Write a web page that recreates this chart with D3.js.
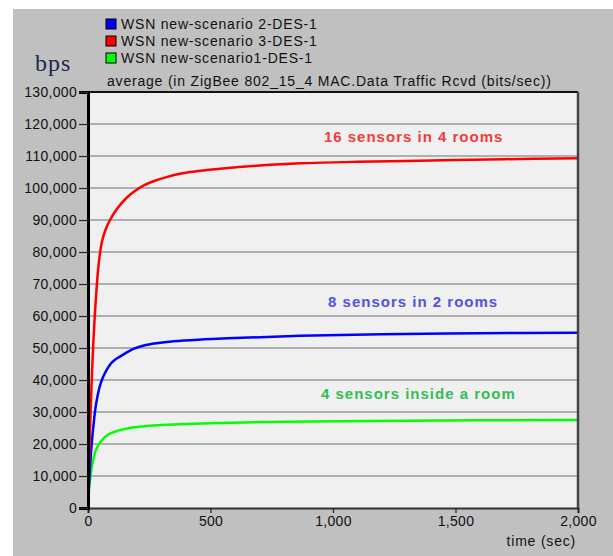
<!DOCTYPE html>
<html>
<head>
<meta charset="utf-8">
<script src="https://cdn.jsdelivr.net/npm/d3@7"></script>
<style>
  body { margin: 0; background: #fff; }
</style>
</head>
<body>
<div id="chart"></div>
<script>
// values: [time (sec), bits/sec]
var greenSeries = [[0,0],[3,4500],[7,8000],[11,10500],[16,13000],[22,15300],[30,17600],[38,19000],[47,20200],[58,21300],[72,22300],[92,23300],[115,24000],[140,24500],[188,25200],[240,25600],[300,25900],[400,26250],[539,26600],[700,26850],[900,27050],[1300,27300],[2000,27500]];
var blueSeries = [[0,0],[3,5500],[7,11000],[12,17000],[18,22500],[24,27000],[30,31000],[36,33800],[44,36800],[52,39000],[62,41000],[75,43000],[92,45000],[110,46300],[130,47300],[160,48700],[188,49800],[228,50800],[280,51500],[350,52100],[450,52600],[600,53100],[865,53800],[1200,54300],[1600,54600],[2000,54800]];
var redSeries = [[0,0],[2,7000],[4,13000],[7,21000],[11,31000],[15,39500],[19,47000],[23,53500],[28,60500],[34,67500],[40,73500],[47,78500],[55,82500],[65,85500],[77,88000],[90,90000],[110,92600],[133,94900],[160,97100],[190,99000],[230,100900],[270,102200],[320,103400],[380,104500],[450,105300],[550,106100],[700,107000],[865,107700],[1100,108200],[1400,108600],[1700,109000],[2000,109300]];

var legendNames = ["WSN new-scenario 2-DES-1", "WSN new-scenario 3-DES-1", "WSN new-scenario1-DES-1"];
var legendColors = ["#0000ff", "#ff0000", "#00ff00"];

var yTicks = d3.range(0, 130001, 10000);
var xTicks = [0, 500, 1000, 1500, 2000];

var notes = [
  {text: "16 sensors in 4 rooms", t: 963, v: 114400, color: "#f03c3c"},
  {text: "8 sensors in 2 rooms", t: 980, v: 62800, color: "#5252dc"},
  {text: "4 sensors inside a room", t: 951, v: 34100, color: "#35bd55"}
];

var sansFont = "'Liberation Sans', Arial, sans-serif";

var svgWidth = 613, svgHeight = 556;
var margin = {top: 92, right: 35, bottom: 48, left: 88};

var svg = d3.select("#chart").append("svg")
  .attr("width", svgWidth)
  .attr("height", svgHeight)
  .style("font-family", sansFont);

// gray panel
svg.append("rect")
  .attr("x", 13).attr("y", 9)
  .attr("width", svgWidth - 13).attr("height", svgHeight - 9)
  .attr("fill", "#c0c0c0");

var x = d3.scaleLinear().domain([0, 2000]).range([margin.left, svgWidth - margin.right]);
var y = d3.scaleLinear().domain([0, 130000]).range([svgHeight - margin.bottom, margin.top]);

// plot background
svg.append("rect")
  .attr("x", x(0)).attr("y", y(130000))
  .attr("width", x(2000) - x(0)).attr("height", y(0) - y(130000))
  .attr("fill", "#f0f0f0");

// gridlines
svg.append("g").selectAll("line")
  .data(yTicks.slice(1, -1))
  .enter().append("line")
  .attr("x1", x(0)).attr("x2", x(2000))
  .attr("y1", d => y(d)).attr("y2", d => y(d))
  .attr("stroke", "#9a9a9a")
  .attr("stroke-width", 1.6);

svg.append("defs").append("clipPath").attr("id", "plotClip")
  .append("rect")
  .attr("x", x(0)).attr("y", y(130000))
  .attr("width", x(2000) - x(0)).attr("height", y(0) - y(130000));

var line = d3.line()
  .x(d => x(d[0]))
  .y(d => y(d[1]))
  .curve(d3.curveCatmullRom.alpha(0.5));

var lines = svg.append("g").attr("clip-path", "url(#plotClip)");
[[greenSeries, "#00ff00"], [blueSeries, "#0000ff"], [redSeries, "#ff0000"]].forEach(function(s) {
  lines.append("path")
    .datum(s[0])
    .attr("d", line)
    .attr("fill", "none")
    .attr("stroke", s[1])
    .attr("stroke-width", 2.5);
});

// frame: top and right borders
svg.append("line")
  .attr("x1", x(0)).attr("x2", x(2000))
  .attr("y1", y(130000)).attr("y2", y(130000))
  .attr("stroke", "#111").attr("stroke-width", 2);
svg.append("line")
  .attr("x1", x(2000)).attr("x2", x(2000))
  .attr("y1", y(130000)).attr("y2", y(0))
  .attr("stroke", "#444").attr("stroke-width", 2.5);

// axes
var leftAxis = d3.axisLeft(y)
  .tickValues(yTicks)
  .tickFormat(d3.format(","))
  .tickSize(9)
  .tickPadding(2);
var bottomAxis = d3.axisBottom(x)
  .tickValues(xTicks)
  .tickFormat(d3.format(","))
  .tickSize(5)
  .tickPadding(3);

var gx = svg.append("g")
  .attr("transform", `translate(0, ${y(0)})`)
  .call(bottomAxis);
gx.select(".domain").attr("stroke", "#333").attr("stroke-width", 2);

var gy = svg.append("g")
  .attr("transform", `translate(${x(0)}, 0)`)
  .call(leftAxis);
gy.select(".domain").attr("stroke", "#000").attr("stroke-width", 3);

svg.selectAll(".tick text")
  .attr("font-family", sansFont)
  .attr("font-size", 14)
  .attr("fill", "#111")
  .style("letter-spacing", "0.3px");
svg.selectAll(".tick line").attr("stroke", "#222").attr("stroke-width", 1.2);

// axis labels and title
svg.append("text")
  .attr("x", 35).attr("y", 71)
  .style("font-family", "'Liberation Serif', 'Times New Roman', serif")
  .attr("font-size", 24)
  .style("letter-spacing", "1px")
  .attr("fill", "#1c2850")
  .text("bps");

svg.append("text")
  .attr("x", 107).attr("y", 86)
  .attr("font-size", 14)
  .style("letter-spacing", "0.8px")
  .attr("fill", "#111")
  .text("average (in ZigBee 802_15_4 MAC.Data Traffic Rcvd (bits/sec))");

svg.append("text")
  .attr("x", 576).attr("y", 546)
  .attr("text-anchor", "end")
  .attr("font-size", 14)
  .style("letter-spacing", "0.8px")
  .attr("fill", "#111")
  .text("time (sec)");

// legend
var legend = svg.append("g").selectAll("g")
  .data(legendNames)
  .enter().append("g")
  .attr("transform", (d, i) => `translate(106, ${19 + i * 17})`);
legend.append("rect")
  .attr("width", 10).attr("height", 10)
  .attr("fill", (d, i) => legendColors[i])
  .attr("stroke", "#000").attr("stroke-width", 1);
legend.append("text")
  .attr("x", 15).attr("y", 10)
  .attr("font-size", 14)
  .style("letter-spacing", "0.8px")
  .attr("fill", "#111")
  .text(d => d);

// curve annotations
svg.append("g").selectAll("text")
  .data(notes)
  .enter().append("text")
  .attr("x", d => x(d.t))
  .attr("y", d => y(d.v))
  .attr("font-size", 15)
  .attr("font-weight", "bold")
  .style("letter-spacing", "1px")
  .attr("fill", d => d.color)
  .text(d => d.text);
</script>
</body>
</html>
